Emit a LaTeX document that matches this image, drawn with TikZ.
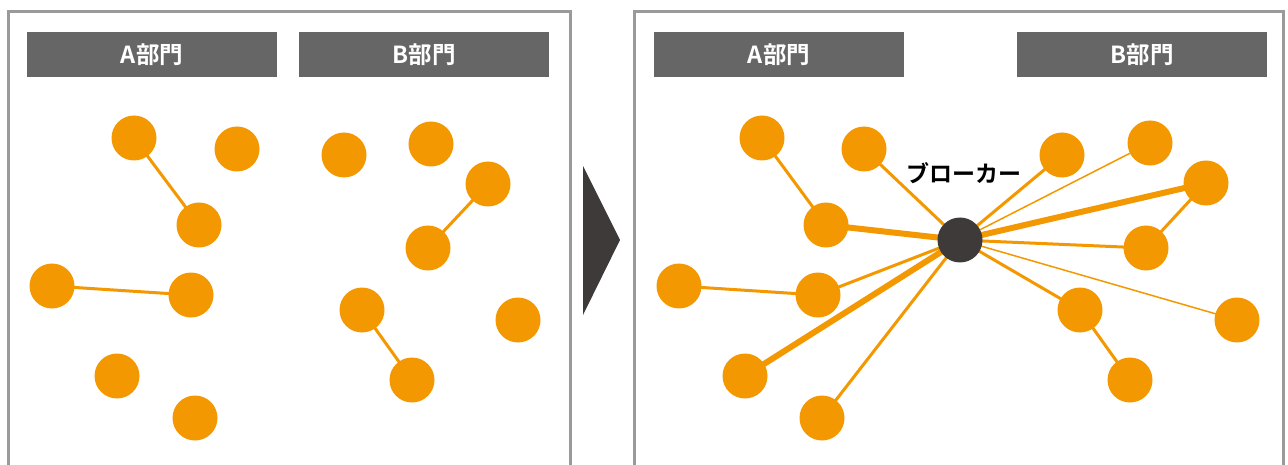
\documentclass[tikz,border=0pt]{standalone}
\usepackage{fontspec}
\newfontfamily\cjk{Noto Sans CJK JP}[BoldFont={Noto Sans CJK JP Bold}]
\usetikzlibrary{backgrounds}
\definecolor{orng}{HTML}{F39800}
\definecolor{darkc}{HTML}{3E3A39}
\definecolor{hdr}{HTML}{666666}
\definecolor{framec}{HTML}{9A9A9A}
\begin{document}
\begin{tikzpicture}[x=1pt,y=-1pt,
  dot/.style={circle,fill=orng,minimum size=45pt,inner sep=0pt},
  hub/.style={circle,fill=darkc,minimum size=45pt,inner sep=0pt},
  hdrbox/.style={fill=hdr,minimum width=250pt,minimum height=45pt,inner sep=0pt,text=white,font=\cjk\bfseries\fontsize{23.5}{23.5}\selectfont},
  lbl/.style={text=black,inner sep=0pt,font=\cjk\bfseries\fontsize{23}{23}\selectfont},
  lnk/.style={draw=orng,line width=3pt},
  widelnk/.style={draw=orng,line width=6pt},
  finelnk/.style={draw=orng,line width=1.5pt},
  panel/.style={draw=framec,line width=3pt}]
\useasboundingbox (0,0) rectangle (1288,465);
\clip (0,0) rectangle (1288,465);
% panels
\draw[panel] (8,480) -- (8,12) -- (570,12) -- (570,480);
\draw[panel] (634,480) -- (634,12) -- (1283,12) -- (1283,480);
% headers
\node[hdrbox] (hA1) at (152,54.5) {A部門};
\node[hdrbox] (hB1) at (424,54.5) {B部門};
\node[hdrbox] (hA2) at (779,54.5) {A部門};
\node[hdrbox] (hB2) at (1142,54.5) {B部門};
% arrow
\fill[darkc] (583,166) -- (620,240) -- (583,315) -- cycle;
% left panel nodes
\node[dot] (p1) at (134,138) {};
\node[dot] (p2) at (237,149) {};
\node[dot] (p3) at (199,225) {};
\node[dot] (p4) at (52,286) {};
\node[dot] (p5) at (191,295) {};
\node[dot] (p6) at (117,376) {};
\node[dot] (p7) at (195,418) {};
\node[dot] (p8) at (344,155) {};
\node[dot] (p9) at (431,144) {};
\node[dot] (p10) at (488,184) {};
\node[dot] (p11) at (428,248) {};
\node[dot] (p12) at (362,310) {};
\node[dot] (p13) at (518,320) {};
\node[dot] (p14) at (412,380) {};
% right panel nodes
\node[hub] (br) at (960,240) {};
\node[lbl] (brl) at (964,173) {ブローカー};
\node[dot] (qa) at (762,138) {};
\node[dot] (qb) at (864,149) {};
\node[dot] (qc) at (826,225) {};
\node[dot] (qd) at (679,286) {};
\node[dot] (qe) at (818,295) {};
\node[dot] (qf) at (745,376) {};
\node[dot] (qg) at (822,418) {};
\node[dot] (qh) at (1062,155) {};
\node[dot] (qi) at (1150,143) {};
\node[dot] (qj) at (1206,183) {};
\node[dot] (qk) at (1146,248) {};
\node[dot] (ql) at (1080,310) {};
\node[dot] (qm) at (1237,320) {};
\node[dot] (qn) at (1130,380) {};
\begin{scope}[on background layer]
\draw[lnk] (p1.center) -- (p3.center);
\draw[lnk] (p4.center) -- (p5.center);
\draw[lnk] (p10.center) -- (p11.center);
\draw[lnk] (p12.center) -- (p14.center);
\draw[lnk] (qa.center) -- (qc.center);
\draw[lnk] (qb.center) -- (br.center);
\draw[widelnk] (qc.center) -- (br.center);
\draw[lnk] (qd.center) -- (qe.center);
\draw[lnk] (qe.center) -- (br.center);
\draw[widelnk] (qf.center) -- (br.center);
\draw[lnk] (qg.center) -- (br.center);
\draw[lnk] (qh.center) -- (br.center);
\draw[finelnk] (qi.center) -- (br.center);
\draw[widelnk] (qj.center) -- (br.center);
\draw[lnk] (qj.center) -- (qk.center);
\draw[lnk] (qk.center) -- (br.center);
\draw[lnk] (ql.center) -- (br.center);
\draw[finelnk] (qm.center) -- (br.center);
\draw[lnk] (ql.center) -- (qn.center);
\end{scope}
\end{tikzpicture}
\end{document}
